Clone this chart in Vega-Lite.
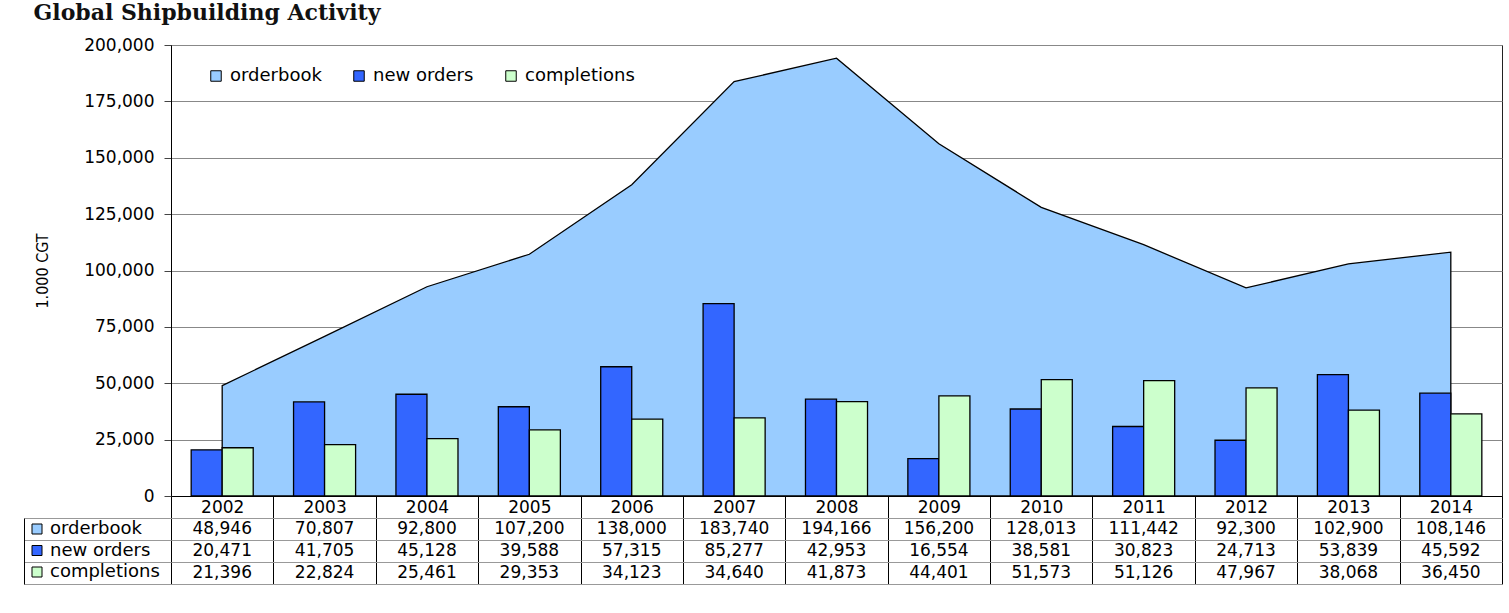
{
  "$schema": "https://vega.github.io/schema/vega-lite/v6.json",
  "padding": {"left": 23, "top": 1, "right": 6, "bottom": 5},
  "background": "white",
  "title": {"text": "Global Shipbuilding Activity", "anchor": "start", "font": "DejaVu Serif", "fontSize": 22, "fontWeight": "bold", "color": "#111", "dx": 10, "offset": 11},
  "config": {
    "font": "DejaVu Sans",
    "axis": {"labelFont": "DejaVu Sans", "labelColor": "#000", "titleColor": "#000"},
    "legend": {"labelFont": "DejaVu Sans", "labelColor": "#000"}
  },
  "datasets": {
    "rows": [
      {"year": "2002", "series": "orderbook", "value": 48946},
      {"year": "2003", "series": "orderbook", "value": 70807},
      {"year": "2004", "series": "orderbook", "value": 92800},
      {"year": "2005", "series": "orderbook", "value": 107200},
      {"year": "2006", "series": "orderbook", "value": 138000},
      {"year": "2007", "series": "orderbook", "value": 183740},
      {"year": "2008", "series": "orderbook", "value": 194166},
      {"year": "2009", "series": "orderbook", "value": 156200},
      {"year": "2010", "series": "orderbook", "value": 128013},
      {"year": "2011", "series": "orderbook", "value": 111442},
      {"year": "2012", "series": "orderbook", "value": 92300},
      {"year": "2013", "series": "orderbook", "value": 102900},
      {"year": "2014", "series": "orderbook", "value": 108146},
      {"year": "2002", "series": "new orders", "value": 20471},
      {"year": "2003", "series": "new orders", "value": 41705},
      {"year": "2004", "series": "new orders", "value": 45128},
      {"year": "2005", "series": "new orders", "value": 39588},
      {"year": "2006", "series": "new orders", "value": 57315},
      {"year": "2007", "series": "new orders", "value": 85277},
      {"year": "2008", "series": "new orders", "value": 42953},
      {"year": "2009", "series": "new orders", "value": 16554},
      {"year": "2010", "series": "new orders", "value": 38581},
      {"year": "2011", "series": "new orders", "value": 30823},
      {"year": "2012", "series": "new orders", "value": 24713},
      {"year": "2013", "series": "new orders", "value": 53839},
      {"year": "2014", "series": "new orders", "value": 45592},
      {"year": "2002", "series": "completions", "value": 21396},
      {"year": "2003", "series": "completions", "value": 22824},
      {"year": "2004", "series": "completions", "value": 25461},
      {"year": "2005", "series": "completions", "value": 29353},
      {"year": "2006", "series": "completions", "value": 34123},
      {"year": "2007", "series": "completions", "value": 34640},
      {"year": "2008", "series": "completions", "value": 41873},
      {"year": "2009", "series": "completions", "value": 44401},
      {"year": "2010", "series": "completions", "value": 51573},
      {"year": "2011", "series": "completions", "value": 51126},
      {"year": "2012", "series": "completions", "value": 47967},
      {"year": "2013", "series": "completions", "value": 38068},
      {"year": "2014", "series": "completions", "value": 36450}
    ]
  },
  "bounds": "flush",
  "spacing": 22,
  "resolve": {"legend": {"color": "independent", "fill": "independent"}, "scale": {"color": "independent", "fill": "independent"}},
  "vconcat": [
    {
      "width": 1331,
      "height": 451,
      "data": {"name": "rows"},
      "view": {"stroke": "#222", "strokeWidth": 1},
      "encoding": {
        "x": {
          "field": "year", "type": "nominal",
          "scale": {"paddingInner": 0, "paddingOuter": 0},
          "axis": {"title": null, "labelAngle": 0, "labelFontSize": 17, "tickBand": "extent", "tickSize": 22, "tickColor": "#000", "domainColor": "#000", "labelPadding": -19, "labelBaseline": "top"}
        },
        "y": {
          "field": "value", "type": "quantitative",
          "scale": {"domain": [0, 200000], "nice": false},
          "axis": {"title": "1.000 CGT", "titleFont": "DejaVu Sans Condensed", "titleFontSize": 16, "titleFontWeight": "normal", "titlePadding": 33,
                   "values": [0, 25000, 50000, 75000, 100000, 125000, 150000, 175000, 200000], "format": ",d", "labelFontSize": 17, "labelPadding": 10,
                   "tickSize": 7, "tickColor": "#444", "gridColor": "#888", "gridOpacity": 1, "domainColor": "#000"}
        }
      },
      "layer": [
        {
          "transform": [{"filter": "datum.series == 'orderbook'"}],
          "mark": {"type": "area", "stroke": "#000", "strokeWidth": 1.3, "fillOpacity": 1},
          "encoding": {
            "color": {
              "field": "series", "type": "nominal",
              "scale": {"domain": ["orderbook", "new orders", "completions"], "range": ["#99CCFF", "#3366FF", "#CCFFCC"]},
              "legend": {"title": null, "orient": "none", "legendX": 36, "legendY": 22, "direction": "horizontal", "labelFontSize": 18, "symbolType": "square", "symbolSize": 110, "symbolStrokeColor": "#000", "symbolStrokeWidth": 1, "columnPadding": 28, "labelOffset": 5, "symbolOpacity": 1}
            }
          }
        },
        {
          "transform": [{"filter": "datum.series != 'orderbook'"}],
          "mark": {"type": "bar", "stroke": "#000", "strokeWidth": 1.3},
          "encoding": {
            "xOffset": {"field": "series", "type": "nominal", "scale": {"domain": ["new orders", "completions"], "paddingInner": 0, "paddingOuter": 0.65}},
            "color": {"field": "series", "type": "nominal"}
          }
        }
      ]
    },
    {
      "width": 1331,
      "height": 66,
      "data": {"name": "rows"},
      "view": {"stroke": null},
      "encoding": {
        "x": {
          "field": "year", "type": "nominal",
          "scale": {"paddingInner": 0, "paddingOuter": 0},
          "axis": {"title": null, "labels": false, "ticks": false, "domain": false, "grid": true, "tickBand": "extent", "gridColor": "#000", "gridOpacity": 1}
        },
        "y": {
          "field": "series", "type": "nominal",
          "scale": {"domain": ["orderbook", "new orders", "completions"], "paddingInner": 0, "paddingOuter": 0},
          "axis": {"title": null, "labels": false, "grid": true, "tickBand": "extent", "gridColor": "#999", "gridOpacity": 1, "offset": 147, "tickSize": -147, "tickColor": "#999", "domainColor": "#000"}
        }
      },
      "layer": [
        {
          "mark": {"type": "text", "fontSize": 17, "font": "DejaVu Sans", "color": "#000"},
          "encoding": {"text": {"field": "value", "type": "quantitative", "format": ","}}
        },
        {
          "mark": {"type": "point", "shape": "square", "filled": true, "opacity": 0},
          "encoding": {
            "fill": {
              "field": "series", "type": "nominal",
              "scale": {"domain": ["orderbook", "new orders", "completions"], "range": ["#99CCFF", "#3366FF", "#CCFFCC"]},
              "legend": {"title": null, "orient": "none", "legendX": -143, "legendY": 2, "direction": "vertical", "labelFontSize": 18, "symbolType": "square", "symbolSize": 100, "symbolStrokeColor": "#000", "symbolStrokeWidth": 1, "rowPadding": 3.5, "labelOffset": 4, "symbolOpacity": 1}
            }
          }
        }
      ]
    }
  ]
}
